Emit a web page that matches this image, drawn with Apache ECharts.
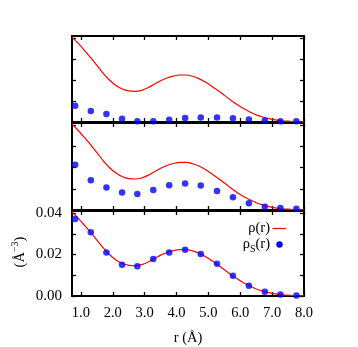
<!DOCTYPE html>
<html><head><meta charset="utf-8">
<script src="https://cdn.jsdelivr.net/npm/echarts@6/dist/echarts.min.js"></script>
<style>html,body{margin:0;padding:0;background:#fff}#c{width:358px;height:347px}</style>
</head><body><div id="c"></div>
<script>
// total density rho(r)
const curveR   = [0.72, 0.9, 1.1, 1.3, 1.5, 1.7, 1.9, 2.1, 2.3, 2.5, 2.7, 2.9, 3.1, 3.3, 3.5, 3.7, 3.9, 4.1, 4.3, 4.5, 4.7, 4.9, 5.1, 5.3, 5.5, 5.7, 5.9, 6.1, 6.3, 6.5, 6.7, 6.9, 7.1, 7.3, 7.5, 7.7, 8.0];
const curveRho = [0.0405, 0.0377, 0.0343, 0.0308, 0.0270, 0.0232, 0.0199, 0.0174, 0.0157, 0.0148, 0.0146, 0.0151, 0.0163, 0.0180, 0.0197, 0.0210, 0.0219, 0.0224, 0.0224, 0.0218, 0.0207, 0.0191, 0.0171, 0.0150, 0.0127, 0.0104, 0.0083, 0.0064, 0.0048, 0.0034, 0.0024, 0.0016, 0.0010, 0.0006, 0.0004, 0.0002, 0.0001];
// partial densities rho_S(r), blue points, one array per panel
const dotR     = [0.82, 1.31, 1.8, 2.29, 2.77, 3.27, 3.77, 4.27, 4.76, 5.27, 5.77, 6.27, 6.77, 7.26, 7.76];
const dotsTop  = [0.0078, 0.0053, 0.0038, 0.0016, 0.0003, 0.0003, 0.0011, 0.0019, 0.0021, 0.0021, 0.0018, 0.0012, 0.0007, 0.0004, 0.0003];
const dotsMid  = [0.0213, 0.0140, 0.0106, 0.0083, 0.0075, 0.0094, 0.0117, 0.0125, 0.0115, 0.0090, 0.0060, 0.0032, 0.0015, 0.0009, 0.0006];
const dotsBot  = [0.0371, 0.0307, 0.0210, 0.0151, 0.0144, 0.0179, 0.0210, 0.0223, 0.0202, 0.0155, 0.0098, 0.0049, 0.0021, 0.0007, 0.0002];
const xTicks   = [1, 2, 3, 4, 5, 6, 7, 8];
const yTicks   = [0, 0.01, 0.02, 0.03, 0.04];
const yLabels  = [0, 0.02, 0.04];

const FONT = 'Liberation Serif';
const chart = echarts.init(document.getElementById('c'), null, {renderer: 'canvas'});
const panels = [dotsTop, dotsMid, dotsBot];
const grids = [
  {left: 72, right: 54, top: 36, height: 86},
  {left: 72, right: 54, top: 123, height: 87},
  {left: 72, right: 54, top: 211, height: 85.5}
];
const lineStyle = {color: '#000', width: 2};
const tickStyle = {color: '#000', width: 1.3};
const xAxes = [], yAxes = [], series = [];
panels.forEach((dots, i) => {
  const last = i === 2;
  xAxes.push({
    gridIndex: i, type: 'value', min: 0.72, max: 8.0, position: 'bottom',
    axisLine: {show: true, onZero: false, lineStyle},
    axisTick: {show: true, inside: true, length: 4, customValues: xTicks, lineStyle: tickStyle},
    axisLabel: {show: last, customValues: xTicks, formatter: v => v.toFixed(1),
      fontFamily: FONT, fontSize: 14.5, color: '#000', margin: 10},
    splitLine: {show: false},
    name: last ? 'r (Å)' : '', nameLocation: 'middle', nameGap: 35,
    nameTextStyle: {fontFamily: FONT, fontSize: 14.5, color: '#000'}
  });
  xAxes.push({
    gridIndex: i, type: 'value', min: 0.72, max: 8.0, position: 'top',
    axisLine: {show: true, onZero: false, lineStyle},
    axisTick: {show: true, inside: true, length: 4, customValues: xTicks, lineStyle: tickStyle},
    axisLabel: {show: false}, splitLine: {show: false}
  });
  yAxes.push({
    gridIndex: i, type: 'value', min: 0, max: 0.041, position: 'left',
    axisLine: {show: true, onZero: false, lineStyle},
    axisTick: {show: true, inside: true, length: 4, customValues: yTicks, lineStyle: tickStyle},
    axisLabel: {show: last, customValues: yLabels, formatter: v => v.toFixed(2),
      fontFamily: FONT, fontSize: 15, color: '#000', margin: 10},
    splitLine: {show: false}
  });
  yAxes.push({
    gridIndex: i, type: 'value', min: 0, max: 0.041, position: 'right',
    axisLine: {show: true, onZero: false, lineStyle},
    axisTick: {show: true, inside: true, length: 4, customValues: yTicks, lineStyle: tickStyle},
    axisLabel: {show: false}, splitLine: {show: false}
  });
  series.push({
    type: 'line', xAxisIndex: 2 * i, yAxisIndex: 2 * i, smooth: 0.3, showSymbol: false,
    data: curveR.map((r, k) => [r, curveRho[k]]),
    lineStyle: {color: '#ff0000', width: 1.2}, clip: true, silent: true, z: 2
  });
  series.push({
    type: 'scatter', xAxisIndex: 2 * i, yAxisIndex: 2 * i, symbol: 'circle', symbolSize: 6.5,
    data: dotR.map((r, k) => [r, dots[k]]),
    itemStyle: {color: '#0000ff'}, clip: false, silent: true, z: 3
  });
});

chart.setOption({
  animation: false,
  backgroundColor: '#fff',
  grid: grids,
  xAxis: xAxes,
  yAxis: yAxes,
  series,
  graphic: [
    {type: 'text', x: 20, y: 252, rotation: Math.PI / 2,
     style: {text: '{a|(Å}{p|−3}{a|)}', align: 'center', verticalAlign: 'middle', fill: '#000',
       rich: {a: {fontFamily: FONT, fontSize: 14.5, lineHeight: 20, fill: '#000'},
              p: {fontFamily: FONT, fontSize: 10, verticalAlign: 'top', fill: '#000'}}}},
    {type: 'text', x: 270, y: 228, style: {text: 'ρ(r)', align: 'right', verticalAlign: 'middle',
       font: '14.5px "Liberation Serif"', fill: '#000'}},
    {type: 'text', x: 270, y: 244, style: {text: '{a|ρ}{s|S}{a|(r)}', align: 'right', verticalAlign: 'middle', fill: '#000',
       rich: {a: {fontFamily: FONT, fontSize: 14.5, lineHeight: 20, fill: '#000'},
              s: {fontFamily: FONT, fontSize: 10, verticalAlign: 'bottom', fill: '#000'}}}},
    {type: 'line', shape: {x1: 272.5, y1: 228.5, x2: 286, y2: 228.5}, style: {stroke: '#ff0000', lineWidth: 1.2}},
    {type: 'circle', shape: {cx: 279.5, cy: 244.5, r: 3.2}, style: {fill: '#0000ff'}}
  ]
});
</script></body></html>
